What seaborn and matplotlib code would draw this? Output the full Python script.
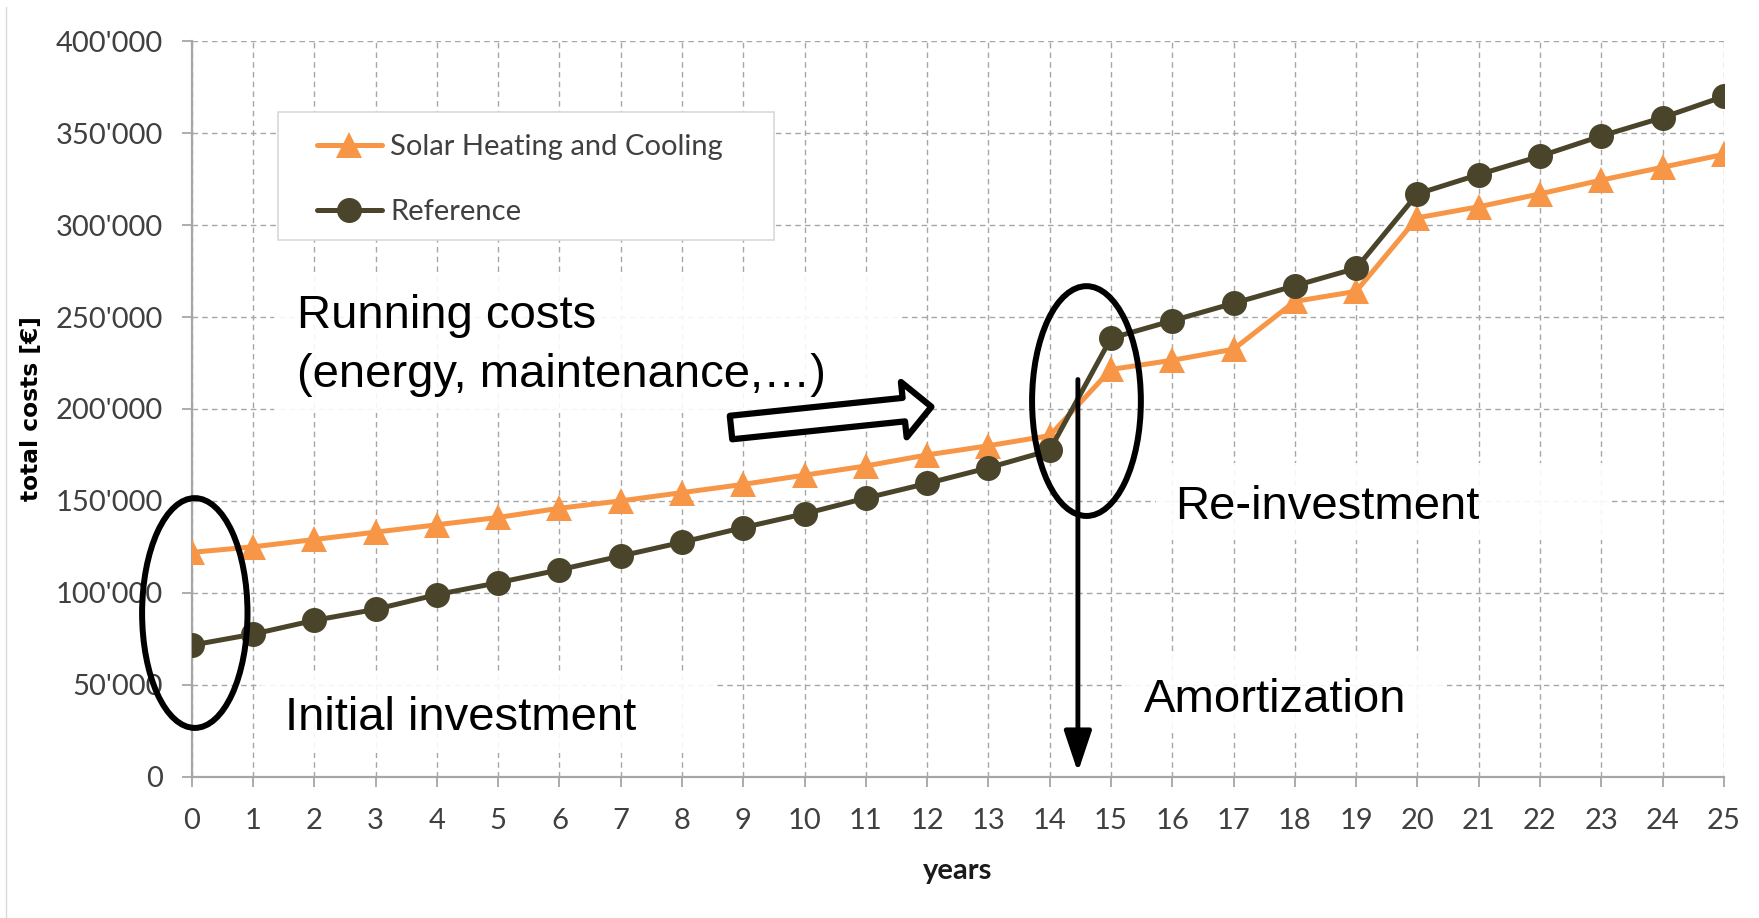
import pandas as pd
import matplotlib
matplotlib.use("Agg")
import matplotlib.pyplot as plt
import seaborn as sns
from matplotlib.patches import Ellipse, Rectangle
from matplotlib.lines import Line2D
from matplotlib.ticker import FuncFormatter, MultipleLocator

# Werte (Gesamtkosten in EUR)
years = list(range(26))
solar = [122000, 125000, 129000, 133000, 137000, 141000, 146000, 150000, 154500,
         159000, 164000, 169000, 175000, 180000, 185500, 221500, 226500, 232500,
         258500, 264000, 304000, 310000, 317000, 324500, 331500, 338500]
reference = [71500, 77500, 85000, 91000, 99000, 105500, 112500, 120000, 127500,
             135500, 143000, 151500, 159500, 168000, 177500, 238500, 248000, 257500,
             267000, 276500, 317000, 327500, 337500, 348500, 358500, 370000]

series_names = ["Solar Heating and Cooling", "Reference"]
series_colors = ["#F79646", "#4A452A"]
series_markers = ["^", "o"]
series_msize = [19, 18]

df = pd.DataFrame({
    "year": years * 2,
    "cost": solar + reference,
    "system": [series_names[0]] * len(years) + [series_names[1]] * len(years),
})

sns.set_theme(style="white")
plt.rcParams["font.family"] = ["Lato", "DejaVu Sans"]

fig = plt.figure(figsize=(17.59, 9.18), dpi=100)
ax = fig.add_axes([0.109, 0.154, 0.871, 0.801])

for name, col, mk, ms in zip(series_names, series_colors, series_markers, series_msize):
    sns.lineplot(data=df[df["system"] == name], x="year", y="cost", ax=ax,
                 color=col, marker=mk, markersize=ms, markeredgewidth=0,
                 linewidth=3.6, label=name, legend=False, zorder=3)

# Achsen
ax.set_xlim(0, 25)
ax.set_ylim(0, 400000)
ax.xaxis.set_major_locator(MultipleLocator(1))
ax.yaxis.set_major_locator(MultipleLocator(50000))
ax.yaxis.set_major_formatter(FuncFormatter(lambda v, p: f"{int(v):,}".replace(",", "'")))
ax.grid(True, color="#a6a6a6", linestyle=(0, (4, 3)), linewidth=1.0)
ax.set_axisbelow(True)
for s in ["top", "right"]:
    ax.spines[s].set_visible(False)
for s in ["left", "bottom"]:
    ax.spines[s].set_color("#a6a6a6")
    ax.spines[s].set_linewidth(1.6)
ax.tick_params(axis="both", bottom=True, left=True, colors="#a6a6a6",
               labelcolor="#404040", labelsize=21, direction="out",
               length=7.5, width=1.3, pad=13)
ax.tick_params(axis="x", pad=15)

ax.set_xlabel("years", fontsize=21, fontweight="bold", color="#1a1a1a")
ax.xaxis.set_label_coords(0.5, -0.11)
ax.set_ylabel("total costs [€]", fontsize=16.8, fontweight="bold",
              family="DejaVu Sans", color="black")
ax.yaxis.set_label_coords(-0.097, 0.5)

# Legende mit eigenem Rahmen
ax.add_patch(Rectangle((0.0564, 0.73), 0.3236, 0.174, transform=ax.transAxes,
                       facecolor="white", edgecolor="#d9d9d9", lw=1.2, zorder=4))
handles, labels = ax.get_legend_handles_labels()
leg = ax.legend(handles, labels, frameon=False, loc="upper left",
                bbox_to_anchor=(0.082, 0.874), borderpad=0, borderaxespad=0,
                handlelength=2.2, handletextpad=0.3, labelspacing=1.35,
                fontsize=21)
for t in leg.get_texts():
    t.set_color("#404040")

# Beschriftungen mit weissem Hintergrund
note_font = dict(family="Liberation Sans", fontsize=34, color="black", zorder=5)
boxes = [(1.35, 197900, 11.55, 274200), (1.13, 12800, 8.57, 56200),
         (15.74, 128900, 23.17, 170400), (15.25, 23800, 20.48, 66000)]
for x0, y0, x1, y1 in boxes:
    ax.add_patch(Rectangle((x0, y0), x1 - x0, y1 - y0, facecolor="white",
                           edgecolor="none", alpha=0.9, zorder=1))

ax.text(1.72, 244000, "Running costs", va="baseline", **note_font)
ax.text(1.72, 212200, "(energy, maintenance,…)", va="baseline", **note_font)
ax.text(1.52, 25300, "Initial investment", va="baseline", **note_font)
ax.text(16.05, 140100, "Re-investment", va="baseline", **note_font)
ax.text(15.53, 35200, "Amortization", va="baseline", **note_font)

# Ellipsen
ax.add_patch(Ellipse((0.05, 89000), 1.72, 125000, fill=False, edgecolor="black",
                     lw=4.3, zorder=5, clip_on=False))
ax.add_patch(Ellipse((14.60, 204300), 1.775, 125000, fill=False, edgecolor="black",
                     lw=4.3, zorder=5, clip_on=False))

# Pfeile
ax.annotate("", xy=(12.07, 201200), xytext=(8.80, 189900),
            arrowprops=dict(arrowstyle="simple,head_length=20,head_width=40,tail_width=17",
                            mutation_scale=1, fc="white", ec="black", lw=4.5,
                            shrinkA=0, shrinkB=0), zorder=5)
ax.annotate("", xy=(14.46, 2400), xytext=(14.46, 216000),
            arrowprops=dict(arrowstyle="-|>,head_length=1.25,head_width=0.42",
                            mutation_scale=20, color="black", lw=3.5,
                            shrinkA=0, shrinkB=0), zorder=5)

# duenne Randlinie links
fig.add_artist(Line2D([0.0035, 0.0035], [0, 0.992], color="#d9d9d9", lw=1))

fig.savefig("out.png", dpi=100)
